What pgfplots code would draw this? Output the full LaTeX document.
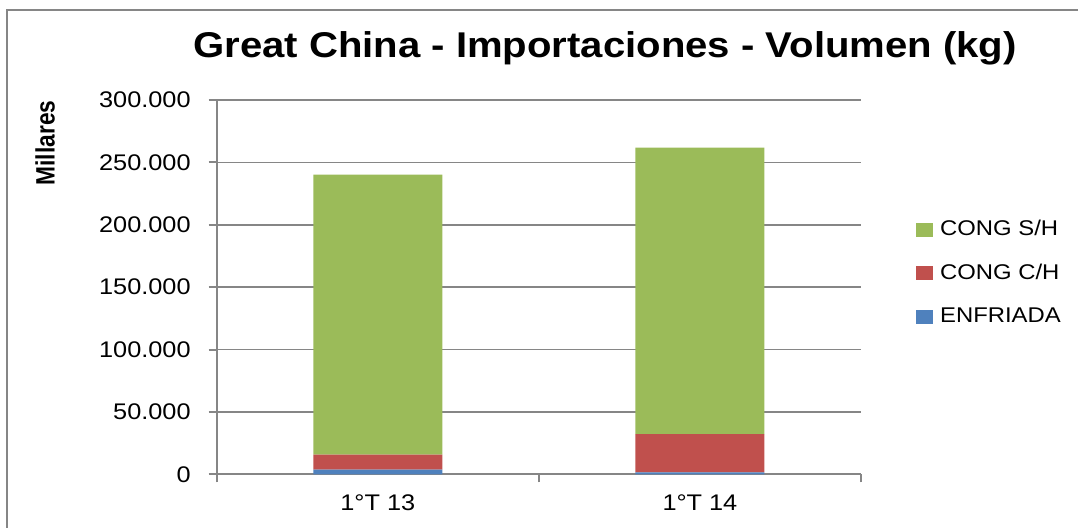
\documentclass[border=0pt]{standalone}
\usepackage{fontspec}
\setmainfont{Liberation Sans}[FakeStretch=1.12]
\newfontfamily\labelfont{Liberation Sans}[FakeStretch=0.855]
\usepackage{pgfplots}
\pgfplotsset{compat=1.18}

\definecolor{cgreen}{HTML}{9BBB59}
\definecolor{cred}{HTML}{C0504D}
\definecolor{cblue}{HTML}{4F81BD}
\definecolor{gridgray}{HTML}{868686}

\begin{document}
\begin{tikzpicture}
\useasboundingbox (0,0) rectangle (539pt,264pt);
% chart frame (only left and top are visible)
\draw[gridgray, line width=1pt] (3.5pt,-2pt) -- (3.5pt,259pt) -- (541pt,259pt);

\begin{axis}[
  at={(108.35pt,26.85pt)}, anchor=south west,
  scale only axis, width=322.15pt, height=187.15pt,
  ybar stacked, bar width=64.5pt,
  xmin=-0.5, xmax=1.5, ymin=0, ymax=300000,
  xtick={-0.5,0.5,1.5}, xticklabels={},
  extra x ticks={0,1},
  extra x tick labels={1°T 13,1°T 14},
  extra x tick style={grid=none, major tick length=0pt},
  ytick={0,50000,100000,150000,200000,250000,300000},
  yticklabels={0,50.000,100.000,150.000,200.000,250.000,300.000},
  scaled y ticks=false,
  axis x line*=bottom, axis y line*=left,
  axis line style={gridgray, line width=1pt},
  tick align=outside, major tick length=4pt,
  tick style={gridgray, line width=1pt},
  ymajorgrids, grid style={gridgray, line width=0.75pt},
  yticklabel style={font=\fontsize{11.3}{12}\selectfont, xshift=-5.5pt},
  xticklabel style={font=\fontsize{11.3}{12}\selectfont, yshift=-6.5pt},
  ylabel={Millares},
  ylabel style={font=\labelfont\bfseries\fontsize{13.3}{15}\selectfont,
    at={(axis description cs:-0.2665,0.885)}, anchor=center},
  legend style={draw=none, fill=none, at={(1.085,0.538)}, anchor=west,
    font=\fontsize{10.65}{12}\selectfont, row sep=8.6pt, inner sep=0pt,
    cells={anchor=west}},
  reverse legend,
  legend image code/.code={\fill[#1] (0pt,-3.5pt) rectangle (8.5pt,3.5pt);
    \path (10pt,0pt);},
]
\addplot[fill=cblue, draw=none] coordinates {(0,3700) (1,1600)};
\addplot[fill=cred, draw=none] coordinates {(0,12000) (1,30600)};
\addplot[fill=cgreen, draw=none] coordinates {(0,224500) (1,229700)};
\legend{ENFRIADA, CONG C/H, CONG S/H}
\end{axis}

\node[font=\bfseries\fontsize{17.9}{20}\selectfont, anchor=base]
  at (302.5pt,235.35pt) {Great China - Importaciones - Volumen (kg)};
\end{tikzpicture}
\end{document}
